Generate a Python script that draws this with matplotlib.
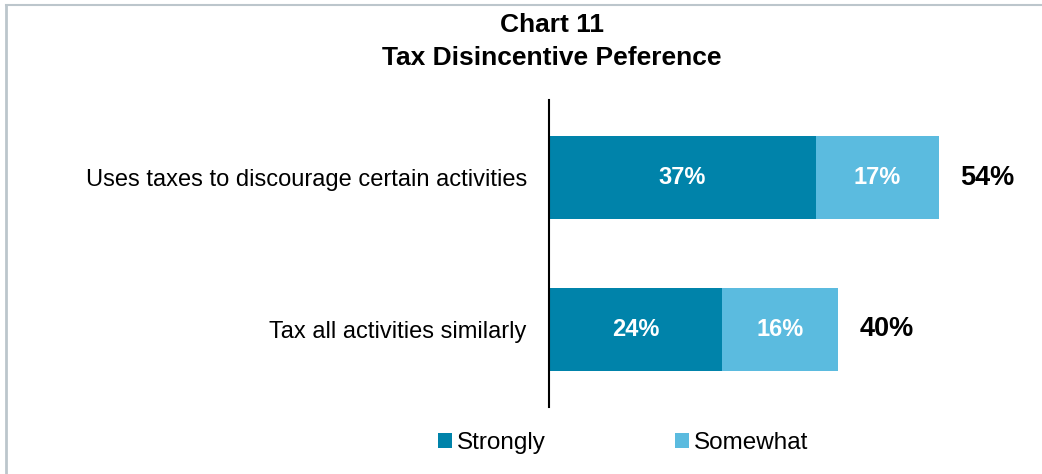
import matplotlib.pyplot as plt
from matplotlib.lines import Line2D

plt.rcParams['font.family'] = ['Liberation Sans', 'DejaVu Sans']

categories = ['Uses taxes to discourage certain activities', 'Tax all activities similarly']
strongly = [37, 24]
somewhat = [17, 16]
totals = [54, 40]
series_names = ['Strongly', 'Somewhat']

dark = '#0083AA'
light = '#5BBBDF'

fig = plt.figure(figsize=(10.42, 4.74), dpi=100)
ax = fig.add_axes([549 / 1042, 1 - 407 / 474, 480 / 1042, 307 / 474])

ypos = [1, 0]
h = 0.54
b1 = ax.barh(ypos, strongly, height=h, color=dark, edgecolor='none')
b2 = ax.barh(ypos, somewhat, left=strongly, height=h, color=light, edgecolor='none')

for y, s, w, t in zip(ypos, strongly, somewhat, totals):
    ax.text(s / 2, y, f'{s}%', ha='center', va='center', color='white',
            fontsize=17, fontweight='bold')
    ax.text(s + w / 2, y, f'{w}%', ha='center', va='center', color='white',
            fontsize=17, fontweight='bold')
    ax.text(t + 3, y, f'{t}%', ha='left', va='center', color='black',
            fontsize=19.5, fontweight='bold')

ax.set_xlim(0, 480 / 7.22)
ax.set_ylim(-0.51, 1.51)
ax.set_yticks(ypos)
ax.set_yticklabels(categories, fontsize=17)
ax.tick_params(axis='y', length=0, pad=16)
ax.set_xticks([])
for side in ['top', 'right', 'bottom']:
    ax.spines[side].set_visible(False)
ax.spines['left'].set_linewidth(1.5)

fig.text(552 / 1042, 1 - 25 / 474, 'Chart 11', ha='center', va='center',
         fontsize=19, fontweight='bold')
fig.text(552 / 1042, 1 - 58 / 474, 'Tax Disincentive Peference', ha='center',
         va='center', fontsize=19, fontweight='bold')

fig.legend([b1, b2], series_names, loc='center', ncol=2,
           bbox_to_anchor=(623 / 1042, 1 - 443 / 474), frameon=False,
           fontsize=17.5, handlelength=0.6, handleheight=0.6,
           handletextpad=0.2, columnspacing=5.3)

# light grey frame along the top and left edges
fig.add_artist(Line2D([6 / 1042, 1], [1 - 5 / 474] * 2, color='#BCC6CC',
                      lw=1.5, transform=fig.transFigure))
fig.add_artist(Line2D([6 / 1042] * 2, [0, 1 - 5 / 474], color='#BCC6CC',
                      lw=2, transform=fig.transFigure))

fig.savefig('out.png', dpi=100)
